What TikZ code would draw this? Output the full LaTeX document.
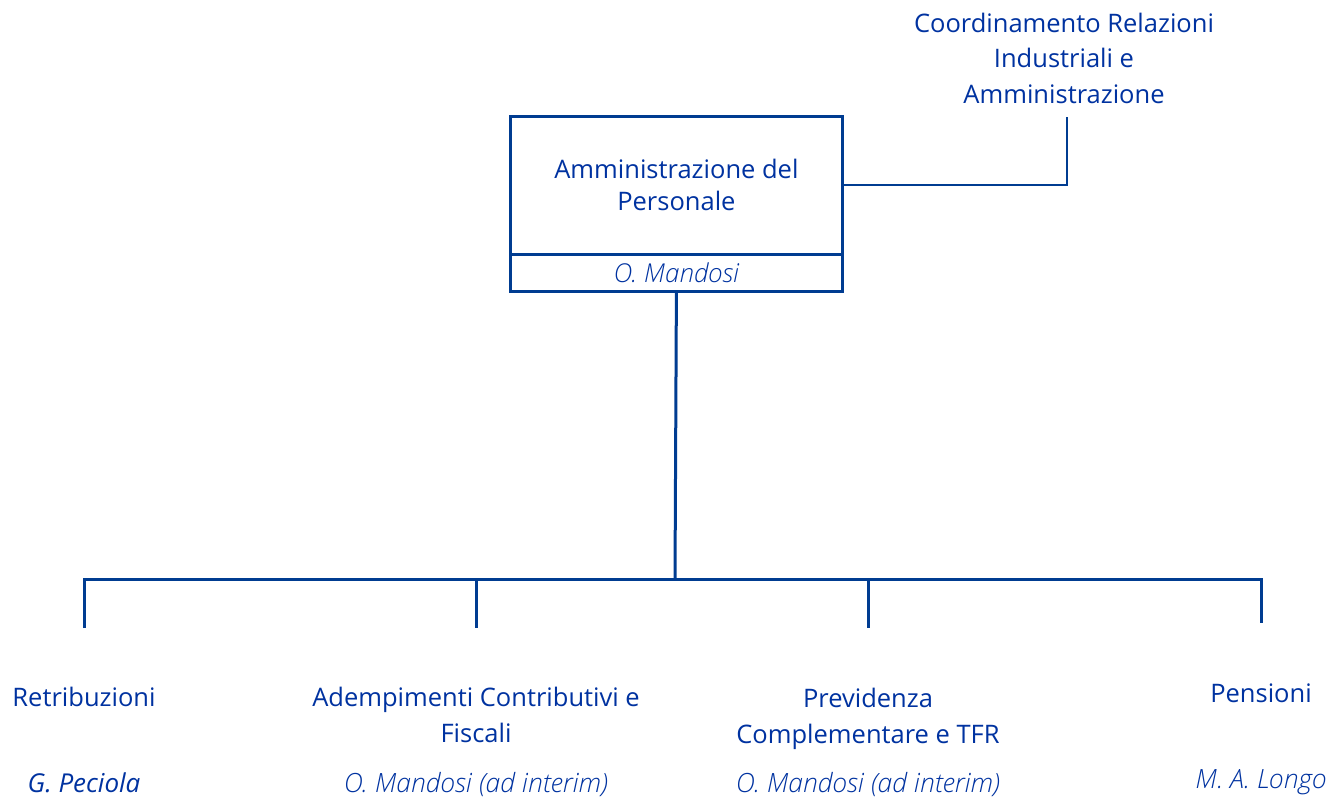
\documentclass[tikz,border=0pt]{standalone}
\usepackage{fontspec}
\setmainfont{Open Sans}
\newfontfamily\lightit{Open Sans Light Italic}
\definecolor{txtblue}{RGB}{0,50,160}
\definecolor{lineblue}{RGB}{0,60,145}
\begin{document}
\begin{tikzpicture}[x=1pt,y=-1pt,
  lbl/.style={text=txtblue,align=center,inner sep=0pt,font=\fontsize{25.5}{36}\selectfont},
  nm/.style={text=txtblue,inner sep=0pt,font=\fontsize{26.5}{34}\selectfont\lightit},
  nmb/.style={text=txtblue,inner sep=0pt,font=\fontsize{26}{34}\selectfont\itshape},
  conn/.style={draw=lineblue,line width=3pt},
  thin/.style={draw=lineblue,line width=2.2pt},
  boxst/.style={draw=lineblue,line width=2.8pt,minimum width=332pt,inner sep=0pt,text=txtblue}]
\useasboundingbox (0,0) rectangle (1329,799);
% main box
\node[boxst,minimum height=138pt,anchor=north west,align=center,font=\fontsize{25.5}{32}\selectfont] (main) at (509,115) {Amministrazione del\\Personale};
\node[boxst,minimum height=37pt,anchor=north west,font=\fontsize{26}{34}\selectfont\lightit] (mainname) at (509,253) {O. Mandosi};
% coordinamento
\node[lbl,font=\fontsize{25.5}{35.5}\selectfont] (coord) at (1064,58) {Coordinamento Relazioni\\Industriali e\\Amministrazione};
\coordinate (coordend) at (1067,117);
\draw[thin] (main.east) -- (main.east -| coordend) -- (coordend);
% bus
\coordinate (bus) at (675,579);
\draw[conn] (mainname.south) -- (bus);
\coordinate (c1) at (84,628);
\coordinate (c2) at (476,628);
\coordinate (c3) at (868,628);
\coordinate (c4) at (1261,623);
\draw[conn] (c1) -- (c1 |- bus) -- (c4 |- bus) -- (c4);
\draw[conn] (c2 |- bus) -- (c2);
\draw[conn] (c3 |- bus) -- (c3);
% children
\node[lbl] (t1) at (84,697) {Retribuzioni};
\node[lbl] (t2) at (476,715) {Adempimenti Contributivi e\\Fiscali};
\node[lbl] (t3) at (868,719) {Previdenza\\Complementare e TFR};
\node[lbl] (t4) at (1261,693) {Pensioni};
\node[nmb] (n1) at (84,783) {G. Peciola};
\node[nm] (n2) at (476,785) {O. Mandosi (ad interim)};
\node[nm] (n3) at (868,785) {O. Mandosi (ad interim)};
\node[nm] (n4) at (1261,782) {M. A. Longo};
\end{tikzpicture}
\end{document}
